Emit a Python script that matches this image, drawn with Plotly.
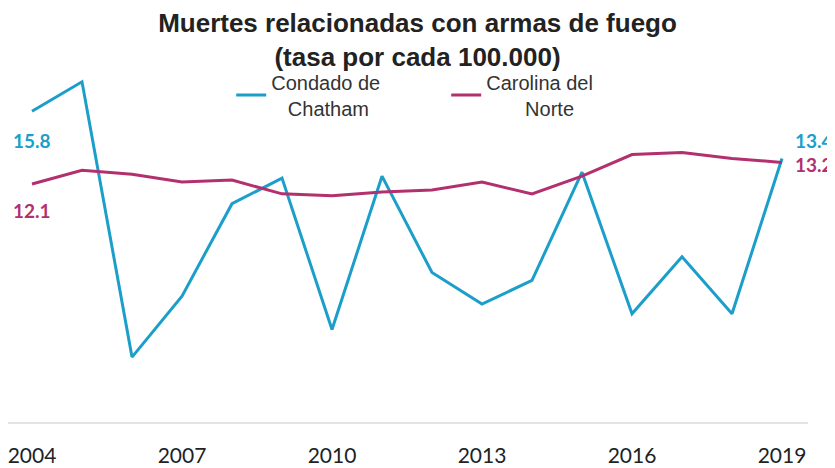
import plotly.graph_objects as go

years = list(range(2004, 2020))
chatham = [15.8, 17.3, 3.3, 6.4, 11.1, 12.4, 4.7, 12.5, 7.6, 6.0, 7.2, 12.7, 5.5, 8.4, 5.5, 13.4]
nc = [12.1, 12.8, 12.6, 12.2, 12.3, 11.6, 11.5, 11.7, 11.8, 12.2, 11.6, 12.5, 13.6, 13.7, 13.4, 13.2]
tick_years = [2004, 2007, 2010, 2013, 2016, 2019]
name_chatham = "Condado de<br>\u00a0\u00a0\u00a0Chatham"
name_nc = "Carolina del<br>\u00a0\u00a0\u00a0\u00a0\u00a0\u00a0\u00a0Norte"
title_text = "<b>Muertes relacionadas con armas de fuego</b><br><b>(tasa por cada 100.000)</b>"

BLUE = "#1B9FCA"
PINK = "#B3306F"

fig = go.Figure()
fig.add_trace(go.Scatter(x=years, y=chatham, mode="lines", name=name_chatham,
                         line=dict(color=BLUE, width=3)))
fig.add_trace(go.Scatter(x=years, y=nc, mode="lines", name=name_nc,
                         line=dict(color=PINK, width=3)))

lab_font = dict(family="Lato, Open Sans, sans-serif", size=19)
fig.add_annotation(x=years[0], y=chatham[0], text=f"<b>{chatham[0]:.1f}</b>", showarrow=False,
                   yshift=-29, font=dict(color=BLUE, **lab_font))
fig.add_annotation(x=years[0], y=nc[0], text=f"<b>{nc[0]:.1f}</b>", showarrow=False,
                   yshift=-26, font=dict(color=PINK, **lab_font))
fig.add_annotation(x=years[-1], y=chatham[-1], text=f"<b>{chatham[-1]:.1f}</b>", showarrow=False,
                   xanchor="left", xshift=11, yshift=18, font=dict(color=BLUE, **lab_font))
fig.add_annotation(x=years[-1], y=nc[-1], text=f"<b>{nc[-1]:.1f}</b>", showarrow=False,
                   xanchor="left", xshift=11, yshift=-2, font=dict(color=PINK, **lab_font))

fig.update_layout(
    width=835, height=468,
    margin=dict(l=0, r=35, t=60, b=54, autoexpand=False),
    paper_bgcolor="white", plot_bgcolor="white",
    title=dict(text=title_text, x=(417.5 - 8) / 835, xref="container", xanchor="center",
               y=1 - 24 / 468, yref="container", yanchor="middle",
               font=dict(family="Liberation Sans, Arial, sans-serif", size=26, color="#222222")),
    legend=dict(orientation="h", x=0.279, xanchor="left", xref="paper",
                y=0.9237, yanchor="middle", yref="paper",
                font=dict(family="Liberation Sans, Arial, sans-serif", size=20, color="#333333"),
                entrywidth=170, entrywidthmode="pixels", bgcolor="rgba(0,0,0,0)"),
    xaxis=dict(range=[2003.52, 2019.52], tickvals=tick_years, ticktext=[str(t) for t in tick_years],
               showgrid=False, zeroline=False, showline=True, linecolor="#E3E3E3", linewidth=2,
               ticks="", ticklabelstandoff=14, automargin=False, ticklabeloverflow="allow",
               tickfont=dict(family="Lato, sans-serif", size=21, color="#222222")),
    yaxis=dict(range=[0, 18], visible=False, showgrid=False, zeroline=False, automargin=False),
)

fig.write_html("out.html")
